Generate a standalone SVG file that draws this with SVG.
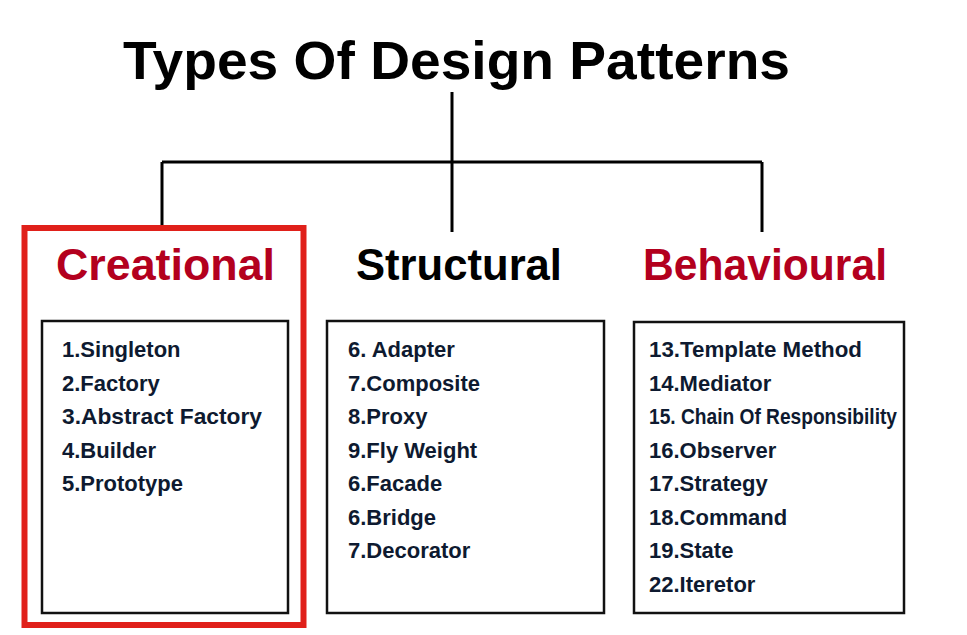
<svg xmlns="http://www.w3.org/2000/svg" width="967" height="635" viewBox="0 0 967 635">
<style>
.title{font-family:"Liberation Sans",Arial,sans-serif;font-weight:bold;font-size:53px;fill:#000}
.head{font-family:"Liberation Sans",Arial,sans-serif;font-weight:bold;font-size:44px}
.red{fill:#b3001e}
.blk{fill:#000}
.item{font-family:"Liberation Sans",Arial,sans-serif;font-weight:bold;font-size:22px;fill:#0e1a30}
.box{fill:#fff;stroke:#111;stroke-width:2.5}
.conn{fill:none;stroke:#000;stroke-width:3}
</style>
<rect width="967" height="635" fill="#fff"/>
<g id="title"><text class="title" x="123" y="79" textLength="667" lengthAdjust="spacingAndGlyphs">Types Of Design Patterns</text></g>
<g id="connectors">
<path class="conn" d="M452 92V232"/>
<path class="conn" d="M162 162H762"/>
<path class="conn" d="M162 162V226"/>
<path class="conn" d="M762 162V232"/>
</g>
<g id="creational">
<rect x="24.5" y="228" width="279" height="397" fill="none" stroke="#e0201a" stroke-width="6"/>
<text class="head red" x="56" y="280" textLength="219" lengthAdjust="spacingAndGlyphs">Creational</text>
<rect class="box" x="42" y="321" width="246" height="292"/>
<text class="item" x="62" y="357">1.Singleton</text>
<text class="item" x="62" y="390.5">2.Factory</text>
<text class="item" x="62" y="424" textLength="200" lengthAdjust="spacingAndGlyphs">3.Abstract Factory</text>
<text class="item" x="62" y="457.5">4.Builder</text>
<text class="item" x="62" y="491">5.Prototype</text>
</g>
<g id="structural">
<text class="head blk" x="356" y="280" textLength="206" lengthAdjust="spacingAndGlyphs">Structural</text>
<rect class="box" x="327" y="321" width="277" height="292"/>
<text class="item" x="348" y="357">6. Adapter</text>
<text class="item" x="348" y="390.5">7.Composite</text>
<text class="item" x="348" y="424">8.Proxy</text>
<text class="item" x="348" y="457.5">9.Fly Weight</text>
<text class="item" x="348" y="491">6.Facade</text>
<text class="item" x="348" y="524.5">6.Bridge</text>
<text class="item" x="348" y="558">7.Decorator</text>
</g>
<g id="behavioural">
<text class="head red" x="643" y="280" textLength="244" lengthAdjust="spacingAndGlyphs">Behavioural</text>
<rect class="box" x="634" y="322" width="270" height="291"/>
<text class="item" x="649" y="357" textLength="213" lengthAdjust="spacingAndGlyphs">13.Template Method</text>
<text class="item" x="649" y="390.5">14.Mediator</text>
<text class="item" x="649" y="424" textLength="248" lengthAdjust="spacingAndGlyphs">15. Chain Of Responsibility</text>
<text class="item" x="649" y="457.5">16.Observer</text>
<text class="item" x="649" y="491">17.Strategy</text>
<text class="item" x="649" y="524.5">18.Command</text>
<text class="item" x="649" y="558">19.State</text>
<text class="item" x="649" y="591.5">22.Iteretor</text>
</g>
</svg>
